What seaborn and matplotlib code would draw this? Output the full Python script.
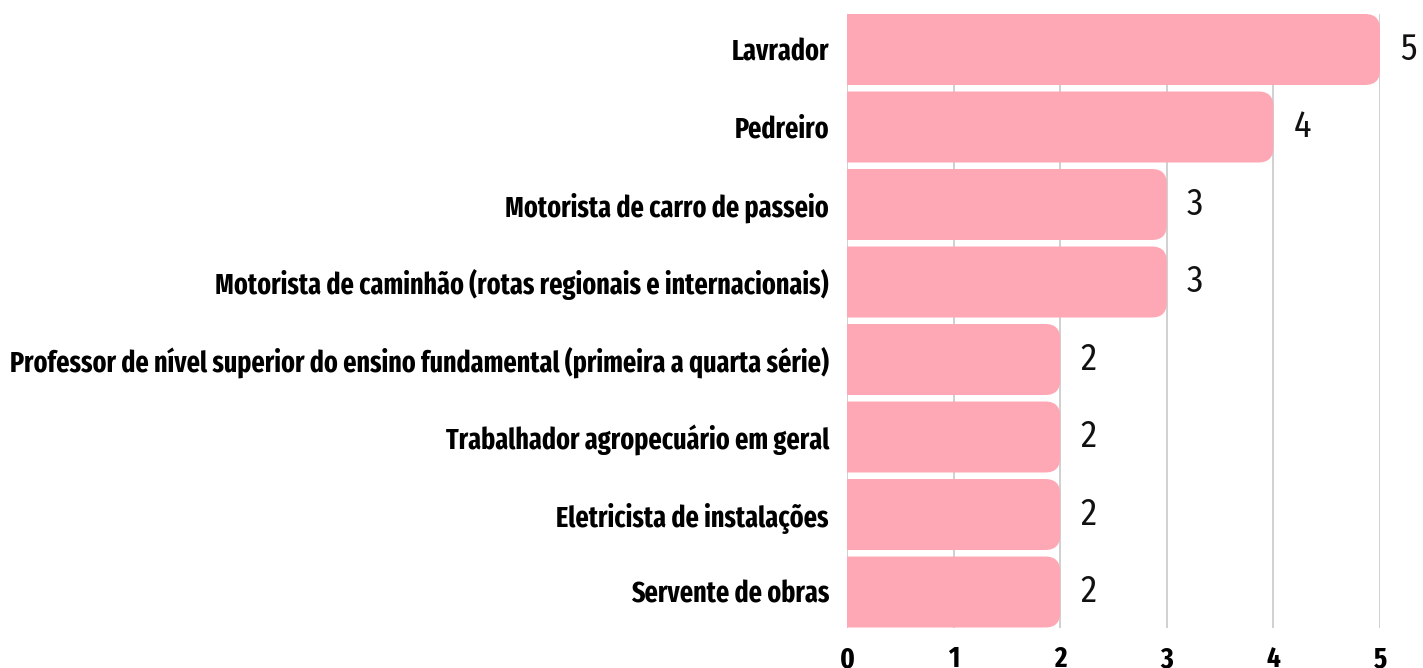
import matplotlib
matplotlib.use("Agg")
import matplotlib.pyplot as plt
import seaborn as sns
import pandas as pd
from matplotlib.patches import FancyBboxPatch

categories = [
    "Lavrador",
    "Pedreiro",
    "Motorista de carro de passeio",
    "Motorista de caminhão (rotas regionais e internacionais)",
    "Professor de nível superior do ensino fundamental (primeira a quarta série)",
    "Trabalhador agropecuário em geral",
    "Eletricista de instalações",
    "Servente de obras",
]
values = [5, 4, 3, 3, 2, 2, 2, 2]
x_ticks = [0, 1, 2, 3, 4, 5]

df = pd.DataFrame({"cat": categories, "val": values})

sns.set_theme(style="white")
plt.rcParams["font.family"] = ["Fira Sans Extra Condensed", "DejaVu Sans"]

bar_color = "#FFA8B5"
fig = plt.figure(figsize=(14.23, 6.68), dpi=100)
ax = fig.add_axes([847 / 1423, 1 - 627.5 / 668, 533 / 1423, (627.5 - 14) / 668])

sns.barplot(data=df, x="val", y="cat", color=bar_color, width=0.916,
            saturation=1, ax=ax, zorder=2)

# replace bars by rounded ones (right corners rounded, left clipped at 0)
for p in list(ax.patches):
    x0, y0 = p.get_x(), p.get_y()
    w, h = p.get_width(), p.get_height()
    p.set_visible(False)
    rb = FancyBboxPatch((x0 - 0.4, y0), w + 0.4, h,
                        boxstyle="round,pad=0,rounding_size=0.14",
                        mutation_aspect=1.38, facecolor=bar_color,
                        edgecolor="none", zorder=2)
    ax.add_patch(rb)

for i, v in enumerate(values):
    ax.text(v + 0.19, i, str(v), va="center", ha="left", fontsize=26,
            fontweight="normal", family=["Fira Sans Condensed", "DejaVu Sans"],
            color="#111111", clip_on=False)

ax.set_xlim(0, 5)
ax.set_ylim(len(categories) - 1 + 0.458, -0.458)
ax.set_xticks(x_ticks)
ax.set_xticklabels([str(t) for t in x_ticks], fontsize=21, fontweight="bold",
                   color="#000000")
ax.tick_params(axis="x", length=0, pad=13)
ax.tick_params(axis="y", length=0, pad=13)
for lab in ax.get_yticklabels():
    lab.set_fontsize(20.4)
    lab.set_fontweight("bold")
    lab.set_color("#000000")
ax.set_xlabel("")
ax.set_ylabel("")
ax.xaxis.grid(True, color="#C8C8C8", linewidth=1.2, zorder=0)
ax.set_axisbelow(True)
for s in ax.spines.values():
    s.set_visible(False)

fig.savefig("out.png", dpi=100)
